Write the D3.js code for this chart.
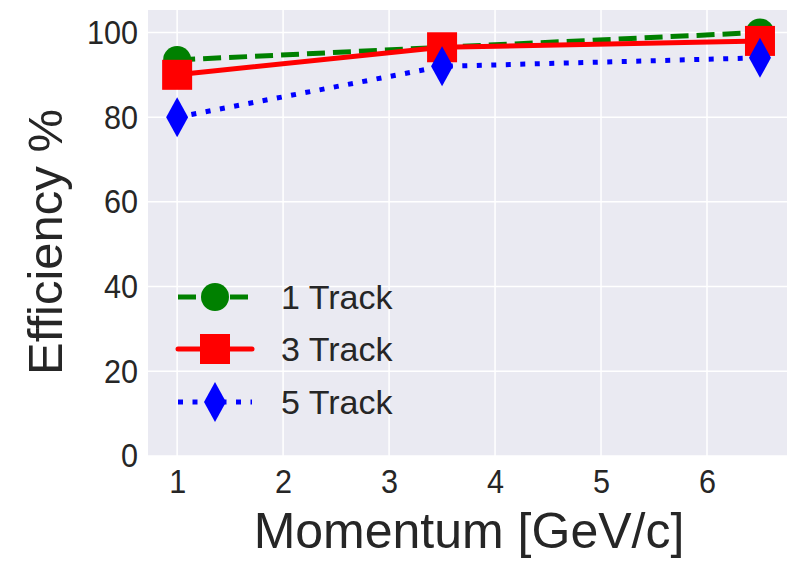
<!DOCTYPE html>
<html>
<head>
<meta charset="utf-8">
<script src="https://cdn.jsdelivr.net/npm/d3@7"></script>
<style>
  body { margin: 0; background: #fff; }
  text { font-family: "Liberation Sans", Arial, sans-serif; fill: #262626; }
  .axis path, .axis line { display: none; }
</style>
</head>
<body>
<div id="chart"></div>
<script>
// Data
var momentum = [1, 3.5, 6.5];
var track1 = [93.5, 96.5, 100];
var track3 = [90, 96.5, 98];
var track5 = [80, 92, 94];
var seriesNames = ["1 Track", "3 Track", "5 Track"];
var xTicks = [1, 2, 3, 4, 5, 6];
var yTicks = [0, 20, 40, 60, 80, 100];

var svgWidth = 789;
var svgHeight = 563;

var margin = { top: 10, right: 2, bottom: 107, left: 148 };
var width = svgWidth - margin.left - margin.right;
var height = svgHeight - margin.top - margin.bottom;

var svg = d3.select("#chart")
    .append("svg")
    .attr("width", svgWidth)
    .attr("height", svgHeight);

var chartGroup = svg.append("g")
    .attr("transform", `translate(${margin.left}, ${margin.top})`);

var xScale = d3.scaleLinear()
    .domain([0.725, 6.755])
    .range([0, width]);

var yScale = d3.scaleLinear()
    .domain([0, 105.3])
    .range([height, 0]);

// Background
chartGroup.append("rect")
    .attr("width", width)
    .attr("height", height)
    .attr("fill", "#eaeaf2");

// Grid
chartGroup.selectAll(".xgrid")
    .data(xTicks)
    .enter()
    .append("line")
    .attr("x1", d => xScale(d))
    .attr("x2", d => xScale(d))
    .attr("y1", 0)
    .attr("y2", height)
    .attr("stroke", "#fff")
    .attr("stroke-width", 1.5);

chartGroup.selectAll(".ygrid")
    .data(yTicks)
    .enter()
    .append("line")
    .attr("x1", 0)
    .attr("x2", width)
    .attr("y1", d => yScale(d))
    .attr("y2", d => yScale(d))
    .attr("stroke", "#fff")
    .attr("stroke-width", 1.5);

// Axes (labels a little condensed like the original)
var bottomAxis = d3.axisBottom(xScale).tickValues(xTicks).tickFormat(d3.format("d")).tickSize(0).tickPadding(13);
var leftAxis = d3.axisLeft(yScale).tickValues(yTicks).tickFormat(d3.format("d")).tickSize(0).tickPadding(11);

chartGroup.append("g")
    .attr("class", "axis")
    .attr("transform", `translate(0, ${height})`)
    .call(bottomAxis)
    .selectAll("text")
    .style("font-size", "34px")
    .style("font-family", "Liberation Sans, Arial, sans-serif")
    .attr("transform", "scale(0.9,1)")
    .attr("fill", "#262626");

chartGroup.append("g")
    .attr("class", "axis")
    .call(leftAxis)
    .selectAll("text")
    .style("font-size", "34px")
    .style("font-family", "Liberation Sans, Arial, sans-serif")
    .attr("transform", "scale(0.9,1)")
    .attr("fill", "#262626");

// Series
var series = [
    { name: seriesNames[0], values: track1, color: "#008000", dash: "18,8", marker: "circle" },
    { name: seriesNames[1], values: track3, color: "#ff0000", dash: null, marker: "square" },
    { name: seriesNames[2], values: track5, color: "#0000ff", dash: "5,9.5", marker: "diamond" }
];

var line = d3.line()
    .x(d => xScale(d[0]))
    .y(d => yScale(d[1]));

function drawMarker(g, type, color) {
    if (type === "circle") {
        g.append("circle").attr("r", 14).attr("fill", color);
    } else if (type === "square") {
        g.append("rect").attr("x", -15).attr("y", -15).attr("width", 30).attr("height", 30).attr("fill", color);
    } else {
        g.append("path").attr("d", "M0,-20L11,0L0,20L-11,0Z").attr("fill", color);
    }
}

series.forEach(function(s) {
    var pts = momentum.map((m, i) => [m, s.values[i]]);
    chartGroup.append("path")
        .datum(pts)
        .attr("d", line)
        .attr("fill", "none")
        .attr("stroke", s.color)
        .attr("stroke-width", 5)
        .attr("stroke-dasharray", s.dash);

    pts.forEach(function(p) {
        var g = chartGroup.append("g")
            .attr("transform", `translate(${xScale(p[0])}, ${yScale(p[1])})`);
        drawMarker(g, s.marker, s.color);
    });
});

// Legend
var legendRows = [297, 349, 402];
series.forEach(function(s, i) {
    var lg = svg.append("g")
        .attr("transform", `translate(215, ${legendRows[i]})`);
    lg.append("line")
        .attr("x1", -37)
        .attr("x2", 37)
        .attr("stroke", s.color)
        .attr("stroke-width", 5)
        .attr("stroke-linecap", s.dash ? "butt" : "round")
        .attr("stroke-dasharray", s.dash);
    drawMarker(lg, s.marker, s.color);
    lg.append("text")
        .attr("x", 66)
        .attr("dy", "0.36em")
        .style("font-size", "34px")
        .text(s.name);
});

// Axis labels
svg.append("text")
    .attr("transform", `translate(62, 242) rotate(-90)`)
    .attr("text-anchor", "middle")
    .style("font-size", "49px")
    .text("Efficiency %");

svg.append("text")
    .attr("x", 469)
    .attr("y", 548)
    .attr("text-anchor", "middle")
    .style("font-size", "50px")
    .text("Momentum [GeV/c]");
</script>
</body>
</html>
